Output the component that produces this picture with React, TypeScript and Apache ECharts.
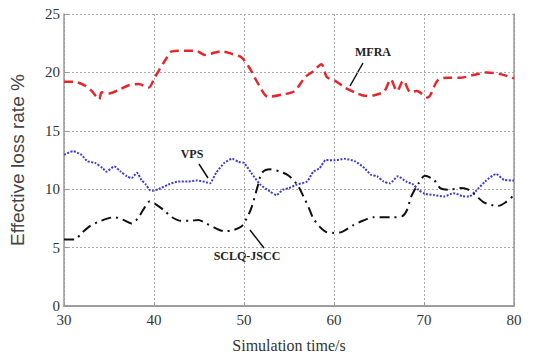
import React, { useEffect, useRef } from "react";
import * as echarts from "echarts";

const mfraX = [30, 31.1, 32.4, 33.1, 33.9, 34.2, 35.0, 36.1, 37.2, 38.3, 39.4, 40.1, 41.3, 42.0, 43.5, 44.6, 45.7, 46.8, 47.5, 48.6, 49.7, 50.6, 51.6, 52.7, 54.2, 55.6, 56.8, 57.7, 58.6, 59.2, 60.1, 61.2, 62.3, 63.4, 64.5, 65.6, 66.3, 67.0, 67.7, 68.5, 69.2, 70.4, 71.5, 72.6, 74.1, 75.6, 77.0, 78.5, 80];
const mfraY = [19.2, 19.2, 18.85, 18.4, 17.7, 18.3, 18.2, 18.5, 18.9, 19.0, 18.7, 19.6, 21.1, 21.8, 21.85, 21.85, 21.5, 21.7, 21.8, 21.6, 21.3, 20.4, 19.0, 17.9, 18.1, 18.4, 19.6, 20.1, 20.7, 19.6, 19.3, 18.7, 18.3, 18.0, 18.05, 18.4, 19.4, 18.4, 19.3, 18.3, 18.4, 17.85, 19.3, 19.55, 19.55, 19.8, 20.0, 19.85, 19.5];

const vpsX = [30, 31.0, 31.9, 32.6, 33.5, 34.3, 34.7, 35.6, 36.3, 37.0, 37.5, 38.1, 38.6, 39.1, 39.5, 39.8, 40.5, 41.6, 42.7, 43.7, 44.8, 45.8, 46.2, 46.9, 47.8, 48.7, 49.4, 50.0, 50.8, 51.8, 52.9, 53.6, 54.3, 55.0, 55.9, 57.0, 57.7, 58.4, 59.1, 60.0, 61.2, 62.3, 63.4, 64.1, 64.8, 65.5, 66.2, 67.1, 68.0, 68.8, 69.4, 70.1, 71.1, 72.2, 73.3, 74.3, 75.0, 75.7, 76.8, 78.0, 78.9, 80];
const vpsY = [12.96, 13.25, 12.96, 12.4, 12.24, 11.8, 11.5, 11.95, 11.5, 11.1, 10.95, 11.4, 10.8, 10.4, 9.95, 9.86, 10.0, 10.4, 10.66, 10.66, 10.75, 10.6, 10.5, 11.4, 12.24, 12.6, 12.33, 12.24, 11.4, 10.4, 9.8, 9.5, 9.95, 10.1, 10.4, 10.66, 11.5, 11.8, 12.5, 12.47, 12.6, 12.4, 11.8, 11.24, 11.1, 10.66, 10.5, 11.1, 10.66, 10.4, 9.94, 9.6, 9.5, 9.37, 9.66, 9.4, 9.37, 9.8, 10.66, 11.3, 10.8, 10.75];

const sclqX = [30, 31.2, 31.9, 32.8, 33.8, 34.9, 35.6, 36.5, 37.5, 38.2, 38.9, 39.5, 40.2, 41.1, 42.0, 43.0, 44.1, 44.9, 45.8, 47.0, 47.8, 48.8, 49.7, 50.2, 50.8, 51.5, 52.0, 52.9, 54.0, 54.9, 55.9, 56.6, 57.2, 57.7, 58.4, 59.1, 60.0, 60.9, 62.1, 63.2, 64.4, 65.5, 66.5, 67.6, 68.1, 68.6, 69.4, 70.1, 71.1, 71.8, 72.9, 73.9, 74.8, 75.7, 76.6, 77.5, 78.2, 79.1, 80];
const sclqY = [5.7, 5.7, 6.2, 6.8, 7.2, 7.5, 7.6, 7.4, 7.07, 7.5, 8.36, 8.94, 8.7, 8.2, 7.6, 7.3, 7.3, 7.36, 7.07, 6.6, 6.4, 6.5, 6.8, 7.36, 8.36, 10.2, 11.4, 11.7, 11.5, 11.2, 10.4, 9.4, 8.4, 7.5, 6.8, 6.35, 6.26, 6.35, 6.9, 7.3, 7.6, 7.6, 7.6, 7.7, 8.2, 9.4, 10.5, 11.15, 10.8, 10.1, 9.95, 10.1, 10.0, 9.5, 8.9, 8.65, 8.56, 8.9, 9.5];

const seriesNames = ["MFRA", "VPS", "SCLQ-JSCC"];

const zip = (xs: number[], ys: number[]) => xs.map((x, i) => [x, ys[i]]);

const serif = '"Liberation Serif", "Times New Roman", serif';
const sans = '"Liberation Sans", Arial, sans-serif';

export default function App() {
  const ref = useRef<HTMLDivElement>(null);
  useEffect(() => {
    document.body.style.margin = "0";
    const chart = echarts.init(ref.current!, null, { renderer: "svg" });
    const axisLine = { show: true, lineStyle: { color: "#999", width: 1.5 } };
    const splitLine = { show: true, lineStyle: { color: "#aaa", type: [2, 2] as any, width: 1 } };
    chart.setOption({
      animation: false,
      backgroundColor: "#fff",
      grid: { left: 62, right: 31, top: 14, bottom: 53, show: false },
      xAxis: [
        {
          type: "value", min: 30, max: 80, interval: 10,
          name: "Simulation time/s", nameLocation: "middle", nameGap: 31,
          nameTextStyle: { fontFamily: serif, fontSize: 16, color: "#333" },
          axisLine, splitLine,
          axisTick: { show: true, inside: true, length: 4, lineStyle: { color: "#999" } },
          axisLabel: { fontFamily: serif, fontSize: 15, color: "#333", margin: 6 },
        },
        {
          type: "value", min: 30, max: 80, interval: 10, position: "top",
          axisLine, splitLine: { show: false }, axisTick: { show: false }, axisLabel: { show: false },
        },
      ],
      yAxis: [
        {
          type: "value", min: 0, max: 25, interval: 5,
          name: "Effective loss rate %", nameLocation: "middle", nameGap: 37,
          nameTextStyle: { fontFamily: sans, fontSize: 19, color: "#444" },
          axisLine, splitLine,
          axisTick: { show: true, inside: true, length: 4, lineStyle: { color: "#999" } },
          axisLabel: { fontFamily: serif, fontSize: 15, color: "#333", margin: 4 },
        },
        {
          type: "value", min: 0, max: 25, interval: 5, position: "right",
          axisLine, splitLine: { show: false }, axisTick: { show: false }, axisLabel: { show: false },
        },
      ],
      series: [
        {
          name: seriesNames[0], type: "line", data: zip(mfraX, mfraY), smooth: 0.3, symbol: "none",
          lineStyle: { color: "#e5262a", width: 2.5, type: [9, 5] },
        },
        {
          name: seriesNames[1], type: "line", data: zip(vpsX, vpsY), smooth: 0.2, symbol: "none",
          lineStyle: { color: "#3b3bd6", width: 2, type: [2, 1.5] },
        },
        {
          name: seriesNames[2], type: "line", data: zip(sclqX, sclqY), smooth: 0.3, symbol: "none",
          lineStyle: { color: "#111", width: 2, type: [10, 5, 2, 5] },
        },
      ],
      graphic: [
        { type: "text", x: 373, y: 52, style: { text: seriesNames[0], font: `bold 12px ${serif}`, fill: "#222", textAlign: "center", textVerticalAlign: "middle" } },
        { type: "line", shape: { x1: 363, y1: 63, x2: 350, y2: 86 }, style: { stroke: "#111", lineWidth: 1.5 } },
        { type: "text", x: 192, y: 154, style: { text: seriesNames[1], font: `bold 12px ${serif}`, fill: "#222", textAlign: "center", textVerticalAlign: "middle" } },
        { type: "line", shape: { x1: 199, y1: 164, x2: 208, y2: 178 }, style: { stroke: "#111", lineWidth: 1.5 } },
        { type: "text", x: 247, y: 256, style: { text: seriesNames[2], font: `bold 12px ${serif}`, fill: "#222", textAlign: "center", textVerticalAlign: "middle" } },
        { type: "line", shape: { x1: 250, y1: 230, x2: 264, y2: 248 }, style: { stroke: "#111", lineWidth: 1.5 } },
      ],
    });
    return () => chart.dispose();
  }, []);
  return <div ref={ref} style={{ position: "fixed", left: 0, top: 0, width: 545, height: 359 }} />;
}
